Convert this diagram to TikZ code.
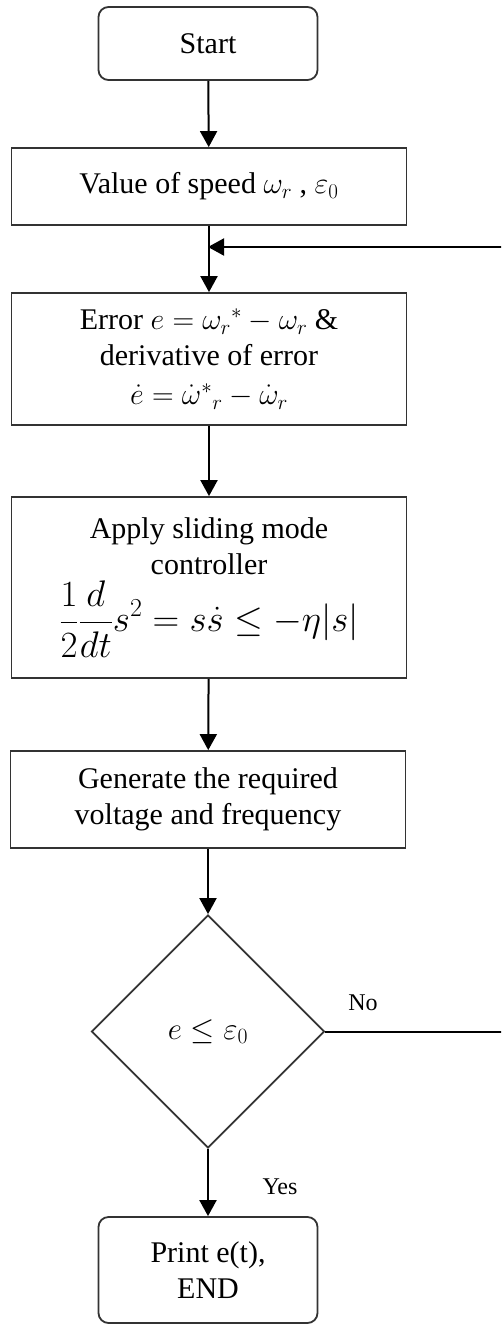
\RequirePackage{fix-cm}
\documentclass[tikz,border=0pt]{standalone}
\usepackage{fontspec}
\setmainfont{Liberation Serif}
\usetikzlibrary{shapes.geometric,arrows.meta}
\begin{document}
\begin{tikzpicture}[x=1pt,y=-1pt,
  box/.style={draw=black!80,line width=1.8pt,minimum width=395pt,inner sep=0pt,align=center,font=\fontsize{30}{36}\selectfont},
  term/.style={box,rounded corners=10pt,minimum width=219pt},
  decision/.style={diamond,draw=black!80,line width=1.8pt,aspect=1,minimum width=233pt,minimum height=233pt,inner sep=0pt,font=\fontsize{31}{36}\selectfont},
  arr/.style={-{Triangle[width=17pt,length=16pt]},line width=2pt,draw=black},
  lbl/.style={font=\fontsize{24}{28}\selectfont,inner sep=0pt}]
\useasboundingbox (0,0) rectangle (501,1325);
\clip (0,0) rectangle (501,1325);
\node[term,minimum height=73pt] (start) at (208,43.5) {Start};
\node[box,minimum height=77pt] (value) at (209,186.5) {Value of speed $\omega_r$ , $\varepsilon_0$};
\node[box,minimum height=132pt] (error) at (209,359) {Error $e=\omega_r{}^{*}-\omega_r$ \&\\ derivative of error\\[3pt] $\dot e=\dot\omega^{*}{}_r-\dot\omega_r$};
\node[box,minimum height=181pt] (apply) at (209,587.5) {Apply sliding mode\\ controller\\[5pt] {\fontsize{37}{42}\selectfont$\displaystyle \frac{1}{2}\frac{d}{dt}s^2=s\dot s\le-\eta|s|$}};
\node[box,minimum height=97pt] (gen) at (208,799.5) {Generate the required\\ voltage and frequency};
\node[decision] (dec) at (208,1031.5) {$e\le\varepsilon_0$};
\node[term,minimum height=106pt] (end) at (208,1270) {Print e(t),\\ END};
\node[lbl] (no) at (363,1003) {No};
\node[lbl] (yes) at (280,1187) {Yes};
\coordinate (join) at (208,247);
\coordinate (r1) at (506,1031.5);
\coordinate (r2) at (506,247);
\draw[arr] (start) -- (value);
\draw[arr] (value) -- (error);
\draw[arr] (error) -- (apply);
\draw[arr] (apply) -- (gen);
\draw[arr] (gen) -- (dec);
\draw[arr] (dec) -- (end);
\draw[arr] (dec.east) -- (r1) -- (r2) -- (join);
\end{tikzpicture}
\end{document}
